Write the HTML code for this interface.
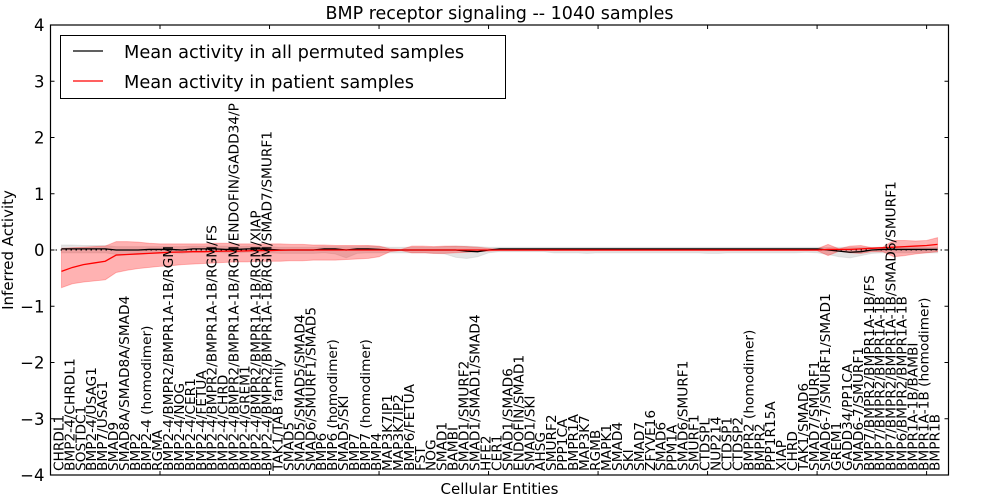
<!DOCTYPE html>
<html><head><meta charset="utf-8"><style>
html,body{margin:0;padding:0;background:#fff;}
svg{display:block;font-family:"DejaVu Sans","Liberation Sans",sans-serif;}
</style></head><body>
<svg id="chart" width="1000" height="500" viewBox="0 0 1000 500">
<text x="499.5" y="19" font-size="17.5" text-anchor="middle">BMP receptor signaling -- 1040 samples</text>
<g id="plot"></g>
<text x="499.5" y="494" font-size="15" text-anchor="middle">Cellular Entities</text>
<text transform="translate(13,250) rotate(-90)" font-size="15" text-anchor="middle">Inferred Activity</text>
</svg>
<script>
const labels=["CHRDL1","BMP2-4/CHRDL1","SOSTDC1","BMP2-4/USAG1","BMP7/USAG1","SMAD9","SMAD8A/SMAD8A/SMAD4","BMP2","BMP2-4 (homodimer)","RGMA","BMP2-4/BMPR2/BMPR1A-1B/RGM","BMP2-4/NOG","BMP2-4/CER1","BMP2-4/FETUA","BMP2-4/BMPR2/BMPR1A-1B/RGM/FS","BMP2-4/CHRD","BMP2-4/BMPR2/BMPR1A-1B/RGM/ENDOFIN/GADD34/P","BMP2-4/GREM1","BMP2-4/BMPR2/BMPR1A-1B/RGM/XIAP","BMP2-4/BMPR2/BMPR1A-1B/RGM/SMAD7/SMURF1","TAK1/TAB family","SMAD5","SMAD5/SMAD5/SMAD4","SMAD6/SMURF1/SMAD5","BMP6","BMP6 (homodimer)","SMAD5/SKI","BMP7","BMP7 (homodimer)","BMP4","MAP3K7IP1","MAP3K7IP2","BMP6/FETUA","FST","NOG","SMAD1","BAMBI","SMAD1/SMURF2","SMAD1/SMAD1/SMAD4","HFE2","CER1","SMAD1/SMAD6","ENDOFIN/SMAD1","SMAD1/SKI","AHSG","SMURF2","PPP1CA","BMPR1A","MAP3K7","RGMB","MAPK1","SMAD4","SKI","SMAD7","ZFYVE16","SMAD6","PPM1A","SMAD6/SMURF1","SMURF1","CTDSPL","NUP214","CTDSP1","CTDSP2","BMPR2 (homodimer)","BMPR2","PPP1R15A","XIAP","CHRD","TAK1/SMAD6","SMAD7/SMURF1","SMAD6-7/SMURF1/SMAD1","GREM1","GADD34/PP1CA","SMAD6-7/SMURF1","BMP7/BMPR2/BMPR1A-1B/FS","BMP7/BMPR2/BMPR1A-1B","BMP7/BMPR2/BMPR1A-1B/SMAD6/SMURF1","BMP6/BMPR2/BMPR1A-1B","BMPR1A-1B/BAMBI","BMPR1A-1B (homodimer)","BMPR1B"];
const yTicks=[4,3,2,1,0,-1,-2,-3,-4];
const xTicks=[10,20,30,40,50,60,70,80];
const permMean=[0.02,0.02,0.02,0.02,0.02,0.0,0.0,0.0,0.01,0.01,0.01,0.0,0.02,0.02,0.02,0.01,0.01,0.02,0.02,0.01,0.0,0.0,0.0,0.0,0.02,0.02,0.0,0.02,0.02,0.01,0.0,0.0,0.0,0.0,0.0,0.0,0.0,-0.02,-0.03,0.0,0.02,0.02,0.02,0.02,0.02,0.02,0.02,0.02,0.02,0.02,0.02,0.02,0.02,0.02,0.02,0.02,0.02,0.02,0.02,0.02,0.02,0.02,0.02,0.02,0.02,0.02,0.02,0.02,0.02,0.02,0.0,-0.02,-0.04,-0.03,0.0,0.01,0.01,0.01,0.01,0.01,0.01];
const permLo=[-0.05,-0.05,-0.05,-0.05,-0.05,-0.08,-0.08,-0.06,-0.05,-0.05,-0.05,-0.06,-0.04,-0.04,-0.04,-0.05,-0.05,-0.04,-0.04,-0.05,-0.06,-0.06,-0.06,-0.06,-0.05,-0.07,-0.14,-0.06,-0.05,-0.05,-0.05,-0.05,-0.05,-0.05,-0.06,-0.07,-0.13,-0.15,-0.12,-0.05,-0.03,-0.03,-0.03,-0.03,-0.03,-0.05,-0.05,-0.05,-0.06,-0.05,-0.05,-0.05,-0.05,-0.05,-0.05,-0.05,-0.05,-0.05,-0.05,-0.06,-0.06,-0.05,-0.05,-0.05,-0.05,-0.05,-0.05,-0.05,-0.04,-0.05,-0.08,-0.12,-0.14,-0.1,-0.06,-0.05,-0.05,-0.05,-0.05,-0.05,-0.05];
const permHi=[0.09,0.09,0.08,0.08,0.08,0.06,0.06,0.06,0.06,0.06,0.06,0.06,0.07,0.07,0.07,0.07,0.06,0.07,0.07,0.06,0.05,0.05,0.05,0.05,0.06,0.06,0.06,0.06,0.07,0.06,0.05,0.05,0.05,0.05,0.05,0.06,0.07,0.07,0.06,0.05,0.05,0.05,0.05,0.05,0.05,0.05,0.05,0.05,0.05,0.05,0.05,0.05,0.05,0.05,0.05,0.05,0.05,0.05,0.05,0.05,0.05,0.05,0.05,0.05,0.05,0.05,0.05,0.05,0.05,0.05,0.05,0.05,0.05,0.05,0.05,0.05,0.05,0.05,0.05,0.05,0.05];
const patMean=[-0.38,-0.31,-0.26,-0.23,-0.2,-0.09,-0.08,-0.07,-0.06,-0.05,-0.04,-0.035,-0.03,-0.03,-0.025,-0.02,-0.02,-0.015,-0.01,-0.01,-0.005,0,0,0,0,0,0,0,0,0,0,0,0,0,0,0,0,0,0,0,0,0,0,0,0,0,0,0,0,0,0,0,0,0,0,0,0,0,0,0,0,0,0,0,0,0,0,0,0,0,0.01,0.01,0.01,0.02,0.03,0.04,0.05,0.06,0.07,0.08,0.1];
const patLo=[-0.67,-0.6,-0.57,-0.55,-0.53,-0.4,-0.36,-0.33,-0.31,-0.29,-0.28,-0.26,-0.25,-0.24,-0.23,-0.22,-0.21,-0.21,-0.2,-0.2,-0.2,-0.19,-0.19,-0.18,-0.18,-0.18,-0.17,-0.16,-0.15,-0.12,-0.03,-0.01,-0.05,-0.05,-0.06,-0.06,-0.05,-0.04,-0.03,-0.02,-0.01,-0.01,-0.01,-0.01,-0.01,-0.01,-0.01,-0.01,-0.01,-0.01,-0.01,-0.01,-0.01,-0.01,-0.01,-0.01,-0.01,-0.01,-0.01,-0.01,-0.01,-0.01,-0.01,-0.01,-0.01,-0.01,-0.01,-0.01,-0.01,-0.01,-0.1,-0.02,-0.05,-0.06,-0.03,-0.03,-0.12,-0.1,-0.07,-0.05,-0.03];
const patHi=[0.03,0.04,0.05,0.06,0.07,0.15,0.15,0.14,0.12,0.11,0.11,0.11,0.11,0.11,0.12,0.12,0.11,0.11,0.11,0.11,0.11,0.1,0.1,0.09,0.09,0.08,0.08,0.08,0.08,0.07,0.02,0.01,0.07,0.07,0.06,0.07,0.07,0.06,0.05,0.03,0.01,0.01,0.01,0.01,0.01,0.01,0.01,0.01,0.01,0.01,0.01,0.01,0.01,0.01,0.01,0.01,0.01,0.01,0.01,0.01,0.01,0.01,0.01,0.01,0.01,0.01,0.01,0.01,0.01,0.02,0.1,0.02,0.07,0.08,0.04,0.05,0.17,0.17,0.16,0.17,0.22];

const L=50.5,R=948.5,T=25,B=475,XMAX=82;
const xs=v=>L+(R-L)*v/XMAX;
const ys=v=>B-(B-T)*(v+4)/8;
const NS="http://www.w3.org/2000/svg";
const plot=document.getElementById('plot');
function mk(tag,attrs,parent){const e=document.createElementNS(NS,tag);for(const k in attrs)e.setAttribute(k,attrs[k]);(parent||plot).appendChild(e);return e;}
function band(lo,hi,fill,op){let d='';lo.forEach((v,i)=>{d+=(i?'L':'M')+xs(i+1)+','+ys(v);});for(let i=hi.length-1;i>=0;i--)d+='L'+xs(i+1)+','+ys(hi[i]);d+='Z';return mk('path',{d:d,fill:fill,'fill-opacity':op,stroke:fill,'stroke-opacity':op*0.8,'stroke-width':1});}
function line(arr,col){return mk('polyline',{points:arr.map((v,i)=>xs(i+1)+','+ys(v)).join(' '),fill:'none',stroke:col,'stroke-width':1.3});}
const pb=band(permLo,permHi,'#b3b3b3',0.35);


const rb=band(patLo,patHi,'#ff0000',0.3);


const zl=mk('line',{x1:L,x2:R,y1:ys(0),y2:ys(0),stroke:'#000','stroke-width':1,'stroke-dasharray':'1.5,3.5'});


const pl=line(permMean,'#000');


const rl=line(patMean,'#ff0000');


yTicks.forEach(t=>{
 const y=ys(t);
 const tl=mk('line',{x1:L,x2:L+4,y1:y,y2:y,stroke:'#000'});
 
 
 const tr=mk('line',{x1:R-4,x2:R,y1:y,y2:y,stroke:'#000'});
 
 
 const tx=mk('text',{x:L-6,y:y+6,'font-size':16.5,'text-anchor':'end'});
 tx.textContent=(t<0?'\u2212'+(-t):String(t));
 
 
});
xTicks.forEach(t=>{
 const x=xs(t);
 const a=mk('line',{x1:x,x2:x,y1:T,y2:T+4,stroke:'#000'});
 
 
 const b=mk('line',{x1:x,x2:x,y1:B-4,y2:B,stroke:'#000'});
 
 
});
labels.forEach((s,i)=>{
 const x=xs(i+0.72);
 const t=mk('text',{transform:'translate('+(x+5)+',471) rotate(-90)','font-size':13.7});
 t.textContent=s;
 
 
});
const fr=mk('rect',{x:L,y:T,width:R-L,height:B-T,fill:'none',stroke:'#000','stroke-width':1.2});


const lg=mk('g',{});


mk('rect',{x:60.5,y:35.5,width:445,height:63,fill:'#fff',stroke:'#000','stroke-width':1},lg);
const e1=mk('line',{x1:73,x2:103,y1:51,y2:51,stroke:'#000','stroke-width':1.3},lg);


const t1=mk('text',{x:124,y:58,'font-size':17.8},lg);
t1.textContent='Mean activity in all permuted samples';


const e2=mk('line',{x1:73,x2:103,y1:81,y2:81,stroke:'#ff0000','stroke-width':1.3},lg);


const t2=mk('text',{x:124,y:88,'font-size':17.8},lg);
t2.textContent='Mean activity in patient samples';


</script>
</body></html>
